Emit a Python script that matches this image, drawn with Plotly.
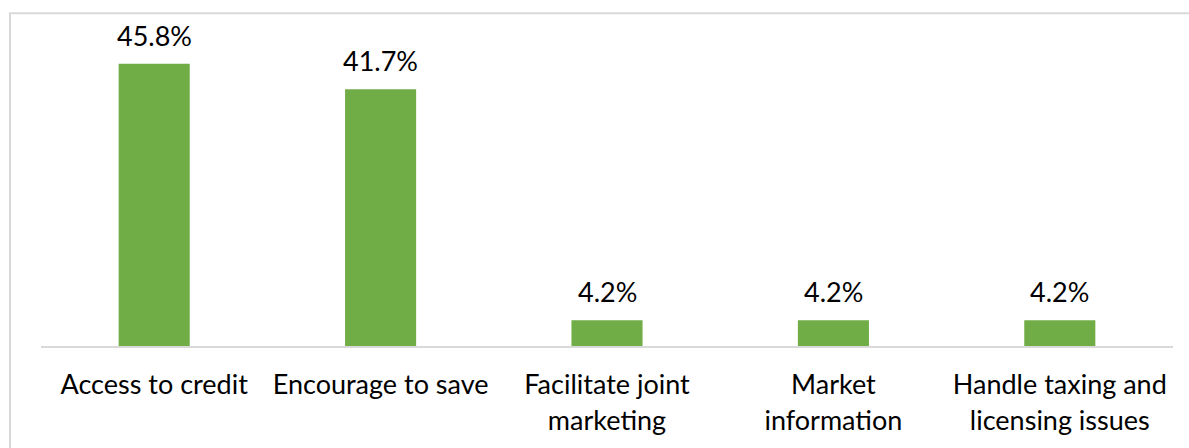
import plotly.graph_objects as go

categories = ["Access to credit", "Encourage to save", "Facilitate joint<br>marketing",
              "Market<br>information", "Handle taxing and<br>licensing issues"]
values = [45.8, 41.7, 4.2, 4.2, 4.2]
value_labels = ["45.8%", "41.7%", "4.2%", "4.2%", "4.2%"]

W, H = 1189, 448
ML, MR, MT, MB = 41, 16, 38, 100
FONT = "Lato"
FS = 27

fig = go.Figure(go.Bar(
    x=categories, y=values, marker_color="#70AD47",
    marker_line_width=0, hoverinfo="skip",
))

for cat, v, lab in zip(categories, values, value_labels):
    fig.add_annotation(x=cat, y=v, text=lab, showarrow=False,
                       yanchor="bottom", yshift=10,
                       font=dict(family=FONT, size=FS, color="#000000"))

# outer chart frame (only top and left edges fall inside the page)
pw, ph = W - ML - MR, H - MT - MB
fig.add_shape(type="rect", xref="paper", yref="paper",
              x0=(10 - ML) / pw, x1=(W + 20 - ML) / pw,
              y0=-(H + 20 - MT - ph) / ph, y1=1 + (MT - 13) / ph,
              line=dict(color="#D9D9D9", width=2), fillcolor="rgba(0,0,0,0)", layer="below")

fig.update_layout(
    width=W, height=H, margin=dict(l=ML, r=MR, t=MT, b=MB),
    paper_bgcolor="white", plot_bgcolor="white",
    bargap=0.686, showlegend=False,
    font=dict(family=FONT, size=FS, color="#000000"),
    xaxis=dict(showline=True, linecolor="#D9D9D9", linewidth=2, ticks="",
               showgrid=False, tickfont=dict(family=FONT, size=FS, color="#000000"),
               ticklabelstandoff=14),
    yaxis=dict(range=[0, 50], visible=False, showgrid=False, zeroline=False),
)

fig.write_html("out.html")
